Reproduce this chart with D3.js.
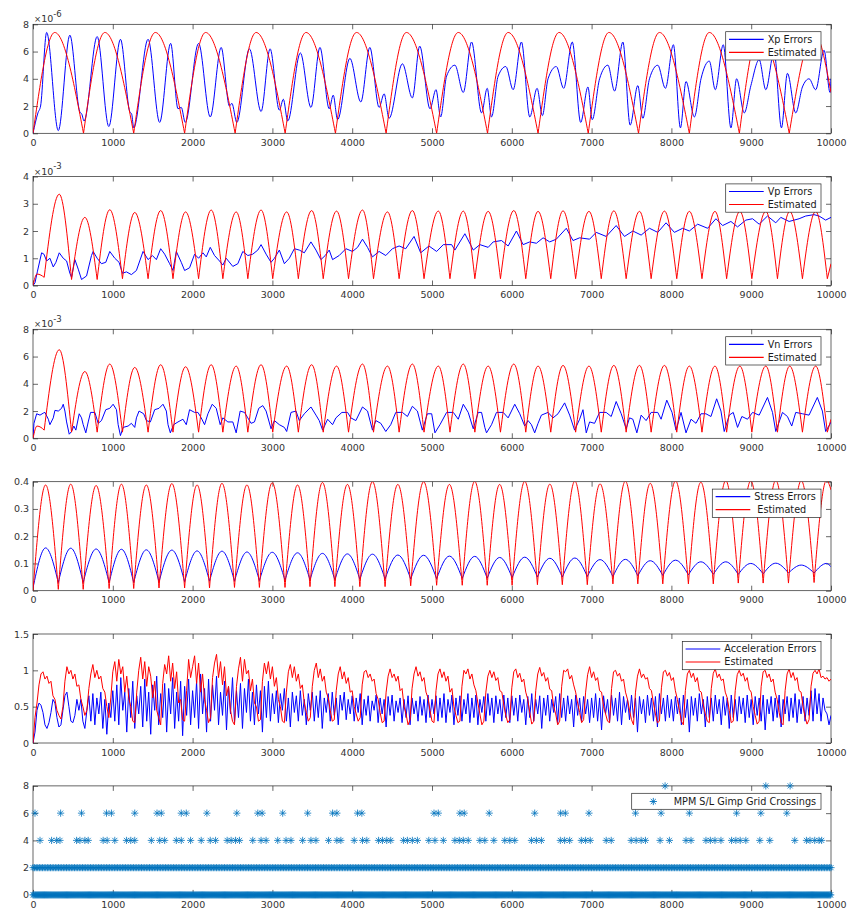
<!DOCTYPE html>
<html>
<head>
<meta charset="utf-8">
<script src="https://cdn.jsdelivr.net/npm/d3@7"></script>
<style>
  body { margin: 0; background: #fff; }
  svg text { font-family: "DejaVu Sans", sans-serif; }
</style>
</head>
<body>
<svg id="chart"></svg>
<script>
// ---- data ------------------------------------------------------------------------

var xTicks = [0, 1000, 2000, 3000, 4000, 5000, 6000, 7000, 8000, 9000, 10000];

// panel 1 (x 1e-6)
var xpErrX = [0,62,95,171,317,462,585,612,640,804,950,1096,1212,1237,1262,1442,1587,1725,1817,1858,
  1908,2075,2221,2358,2462,2492,2554,2712,2858,2971,3087,3137,3192,3350,3483,3596,3712,3762,3817,3971,
  4108,4221,4337,4400,4462,4629,4754,4846,4975,5050,5108,5183,5287,5392,5496,5621,5692,5746,5829,5925,
  6017,6121,6225,6317,6383,6454,6558,6650,6758,6863,6954,7008,7100,7204,7288,7392,7483,7579,7642,7725,
  7829,7925,8025,8113,8183,8288,8371,8475,8550,8650,8746,8817,8913,8996,9100,9183,9287,9379,9454,9558,
  9642,9725,9808,9913,9988,10000];
var xpErrY = [0,1.5,2.0,7.4,0.2,7.2,1.6,1.4,0.9,7.1,0.5,6.9,1.6,1.4,0.4,6.9,0.8,6.6,1.8,1.9,
  0.8,6.6,1.2,6.3,2.0,2.2,0.8,6.2,1.6,6.2,1.7,2.5,0.9,5.9,1.9,6.3,1.8,2.8,1.0,5.5,
  2.3,6.3,1.9,2.9,1.1,5.1,2.6,6.4,1.8,3.2,1.2,4.2,5.0,3.0,6.7,1.5,3.3,1.2,4.2,4.9,
  3.2,6.7,1.2,3.3,1.3,4.0,4.9,3.3,6.7,0.8,3.4,1.0,4.0,5.0,3.1,6.7,0.6,3.5,1.1,4.0,
  5.0,3.3,6.5,0.4,3.8,1.2,4.0,5.3,3.2,6.5,0.4,4.0,1.5,3.5,5.4,3.2,6.0,0.4,4.4,1.5,
  3.4,4.0,3.2,6.1,3.0,4.0];
var xpEstX = [0,272,633,900,1262,1533,1900,2163,2533,2796,3160,3421,3790,4054,4425,4679,5058,5329,
  5696,5954,6329,6592,6958,7217,7588,7850,8225,8475,8852,9100,9477,9790,10000];
var xpEstY = [0,7.4,0,7.4,0,7.4,0,7.4,0,7.4,0,7.4,0,7.4,0,7.4,0,7.4,
  0,7.4,0,7.4,0,7.4,0,7.4,0,7.4,0,7.4,0,7.4,3.0];

// panels 2 and 3 share the same arch positions of the estimate
var estX23 = [0,50,100,140, 329,483, 650,804, 962,1121, 1275,1442, 1600,1754, 1912,2075, 2233,2379,
  2546,2692, 2858,3004, 3179,3325, 3492,3637, 3804,3954, 4129,4267, 4442,4588, 4754,4900, 5079,5225,
  5392,5537, 5704,5858, 6025,6175, 6329,6488, 6642,6800, 6967,7121, 7279,7433, 7600,7746, 7913,8067,
  8225,8383, 8546,8692, 8858,9008, 9183,9329, 9483,9642, 9808,9954, 10000];

// panel 2 (x 1e-3)
var vpErrX = [0,25,54,108,137,171,212,254,287,329,379,421,462,483,525,567,608,671,733,754,
  804,858,912,962,1025,1079,1121,1171,1233,1296,1379,1442,1496,1546,1600,1650,1712,1754,1796,1858,
  1900,1962,2025,2075,2129,2171,2221,2275,2337,2379,2421,2504,2567,2629,2692,2754,2817,2858,2921,2983,
  3025,3087,3150,3212,3275,3337,3400,3483,3546,3608,3662,3712,3754,3837,3921,4004,4067,4129,4192,4254,
  4337,4421,4504,4588,4671,4775,4858,4962,5058,5142,5246,5287,5412,5517,5600,5704,5767,5871,
  5954,6058,6142,6225,6308,6392,6475,6558,6683,6767,6850,6975,7058,7183,7308,7412,7517,7621,7725,7829,
  7933,8037,8142,8225,8329,8454,8558,8642,8746,8829,8933,9017,9100,9204,9308,9371,9475,9600,9683,9787,
  9850,9933,10000];
var vpErrY = [0,0.1,0.5,1.2,1.15,0.9,1.0,0.68,0.85,1.2,1.0,0.9,0.45,0.3,0.95,0.6,0.22,0.35,1.1,1.25,
  1.0,0.8,0.85,1.25,1.0,0.85,0.45,0.5,0.4,0.55,1.25,0.95,1.1,0.95,1.35,1.15,0.8,0.55,1.25,0.85,
  0.55,0.65,1.15,1.0,1.2,1.05,1.4,1.1,0.9,0.75,1.0,0.7,0.8,1.25,1.1,1.15,1.3,1.5,1.15,0.85,
  1.0,1.3,0.8,1.0,1.35,1.3,1.2,1.6,1.3,0.95,1.1,1.3,0.95,1.1,1.35,1.25,1.4,1.7,1.4,1.05,
  1.25,1.1,1.35,1.45,1.35,1.8,1.2,1.45,1.25,1.5,1.5,1.3,1.9,1.3,1.5,1.4,1.6,1.65,
  1.45,2.0,1.5,1.6,1.55,1.75,1.6,1.7,2.1,1.65,1.75,1.7,1.95,1.8,2.2,1.8,2.0,1.85,2.1,1.95,
  2.3,1.95,2.1,2.0,2.25,2.1,2.45,2.2,2.35,2.15,2.4,2.45,2.25,2.55,2.3,2.5,2.35,2.45,2.55,2.6,
  2.55,2.4,2.5];
var vpEstY = [0,0.42,0.38,0.3, 3.35,0.22, 2.5,0.22, 2.78,0.25, 2.68,0.25, 2.75,0.25, 2.7,0.25, 2.77,0.25,
  2.7,0.25, 2.77,0.25, 2.7,0.25, 2.75,0.25, 2.73,0.25, 2.77,0.25, 2.7,0.25, 2.75,0.25, 2.73,0.25,
  2.73,0.25, 2.72,0.25, 2.75,0.25, 2.72,0.25, 2.74,0.25, 2.72,0.25, 2.74,0.25, 2.72,0.25, 2.73,0.25,
  2.72,0.25, 2.72,0.25, 2.72,0.25, 2.72,0.25, 2.72,0.25, 2.72,0.25, 0.8];

// panel 3 (x 1e-3)
var vnErrX = [0,12,46,88,129,150,192,212,254,275,317,358,379,400,421,454,483,512,537,579,
  608,629,662,692,721,775,817,858,912,962,1004,1046,1067,1096,1129,1192,1233,1275,1296,1329,
  1387,1421,1471,1525,1579,1629,1671,1692,1721,1762,1817,1879,1921,1962,2025,2067,2108,2150,2192,2246,
  2296,2346,2379,2442,2504,2546,2596,2650,2692,2733,2775,2829,2879,2921,2983,3025,3087,3150,3179,3233,
  3296,3337,3400,3483,3546,3587,3629,3692,3754,3796,3871,3942,3983,4046,4129,4192,4254,4296,4358,4421,
  4483,4546,4629,4692,4754,4817,4879,4942,
  4996,5037,5100,5183,5267,5329,5392,5454,5517,5579,5621,5662,5683,5746,5808,5892,5954,6037,6100,6162,
  6204,6246,6287,6329,6371,6454,6517,6579,6662,6725,6787,6850,6892,6933,6975,7037,7100,7183,7246,7308,
  7371,7433,7475,7517,7567,7621,7683,7746,7829,7871,7942,8008,8058,8121,8183,8246,8308,8371,8433,8496,
  8567,8621,8662,8725,8775,8829,8883,8954,9017,9100,9204,9267,9308,9392,9454,9508,9558,9642,9725,9829,
  9892,9933,9983,10000];
var vnErrY = [0,1.1,1.8,1.7,1.85,1.9,1.4,1.0,1.5,2.05,2.0,2.2,2.5,2.0,1.2,0.3,0.5,0.9,0.6,1.8,
  1.5,1.0,0.4,1.2,1.9,1.9,1.1,1.3,2.1,2.2,2.5,2.1,1.0,0.2,0.8,0.9,1.1,0.8,1.5,2.0,
  1.8,1.3,1.2,2.1,2.2,2.5,2.0,1.0,0.4,1.0,1.2,1.4,1.0,2.1,1.9,1.9,1.5,1.0,1.8,2.5,
  2.2,1.0,1.5,1.2,1.2,0.4,2.0,1.9,1.5,1.1,1.2,2.2,2.4,2.0,0.7,1.3,1.0,0.8,0.5,1.9,
  2.0,1.3,1.8,2.3,1.7,1.3,0.6,1.4,1.0,1.5,1.9,1.9,1.5,1.3,2.3,2.0,0.6,1.3,1.1,0.5,
  1.0,1.9,1.9,1.6,2.35,2.0,0.6,1.8,
  1.8,0.4,1.0,1.9,1.9,1.4,2.5,1.9,0.7,1.9,1.9,0.8,0.4,1.0,1.9,1.9,1.5,2.5,1.8,0.9,
  1.3,1.0,0.4,1.1,1.7,1.9,1.5,1.8,2.6,1.7,0.6,1.4,2.1,0.4,1.2,1.1,1.9,1.9,1.6,2.7,
  1.8,0.7,1.5,1.4,0.4,1.7,1.3,1.9,1.9,1.4,2.8,1.9,0.6,1.9,0.4,1.4,1.1,1.8,1.8,1.6,
  2.9,2.0,0.5,1.7,1.9,0.8,1.6,1.4,1.9,1.7,3.0,1.9,0.5,1.9,1.6,0.9,1.9,1.8,1.7,3.0,
  2.0,0.5,1.0,1.2];
var vnEstY = [0,0.9,0.8,0.6, 6.5,0.45, 4.9,0.45, 5.45,0.45, 5.2,0.45, 5.4,0.45, 5.25,0.45, 5.4,0.45,
  5.3,0.45, 5.4,0.45, 5.3,0.45, 5.4,0.45, 5.3,0.45, 5.45,0.45, 5.3,0.45, 5.45,0.45, 5.3,0.45,
  5.45,0.45, 5.3,0.45, 5.45,0.45, 5.3,0.45, 5.35,0.45, 5.3,0.45, 5.35,0.45, 5.35,0.45, 5.35,0.45,
  5.3,0.45, 5.3,0.45, 5.3,0.45, 5.3,0.45, 5.3,0.45, 5.3,0.45, 1.4];

// panel 4: troughs / peaks interleaved
var stressX = [0,158,317,473,629,791,954,1108,1262,1420,1579,1740,1900,2056,2212,2368,2525,2681,
  2837,2998,3158,3315,3471,3627,3783,3940,4096,4254,4412,4572,4733,4895,5058,5218,5379,5535,
  5692,5848,6004,6162,6321,6477,6633,6790,6946,7106,7267,7423,7579,7735,7892,8052,8213,8369,
  8525,8681,8838,8994,9150,9308,9467,9627,9788,9944,10000];
var stressErrY = [0.01,0.157,0.03,0.156,0.03,0.153,0.03,0.152,0.03,0.15,0.032,0.149,0.033,0.146,
  0.035,0.145,0.035,0.142,0.037,0.141,0.038,0.139,0.04,0.137,0.04,0.135,0.042,0.134,0.043,0.131,
  0.043,0.13,0.044,0.127,0.045,0.126,0.046,0.122,0.048,0.123,0.05,0.119,0.05,0.12,0.052,0.114,
  0.052,0.115,0.055,0.11,0.056,0.112,0.058,0.106,0.06,0.106,0.06,0.1,0.062,0.101,0.065,0.094,
  0.065,0.1,0.088];
var stressEstY = [0,0.388,0.005,0.391,0.005,0.386,0.008,0.391,0.008,0.388,0.01,0.393,0.01,0.388,
  0.01,0.394,0.012,0.388,0.012,0.396,0.012,0.388,0.015,0.397,0.015,0.39,0.015,0.4,0.015,0.39,
  0.018,0.4,0.02,0.39,0.02,0.401,0.02,0.39,0.02,0.401,0.022,0.391,0.022,0.402,0.022,0.392,
  0.025,0.402,0.025,0.394,0.025,0.403,0.025,0.398,0.025,0.404,0.028,0.403,0.028,0.405,0.028,0.404,
  0.03,0.405,0.37];

// panel 5: one value every accStep time steps
var accStep = 25;
var accErr = [0,0.15,0.45,0.55,0.52,0.42,0.25,0.2,0.28,0.42,0.6,0.55,0.35,0.22,0.25,0.45,0.65,0.7,0.5,0.3,
  0.28,0.38,0.6,0.45,0.6,0.3,0.2,0.45,0.65,
  0.3,0.68,0.25,0.62,0.4,0.7,0.2,0.6,0.12,0.55,0.35,0.72,
  0.3,0.8,0.25,0.9,0.45,0.7,0.15,0.75,0.35,0.85,0.2,0.65,0.4,0.78,0.22,0.88,0.3,0.7,0.12,0.8,
  0.45,0.92,0.25,0.68,0.35,0.82,0.15,0.75,0.4,0.9,0.2,0.7,0.3,0.85,0.1,0.78,0.38,0.88,0.25,0.72,
  0.35,0.85,0.2,0.95,0.4,0.75,0.15,0.88,0.3,0.8,0.45,0.92,0.25,0.7,0.38,0.85,0.18,0.78,0.4,0.9,
  0.28,0.72,0.35,0.82,0.2,0.75,0.42,0.88,0.3,0.7,0.25,0.8,0.4,0.72,0.15,0.78,0.35,0.85,0.3,0.68,
  0.4,0.72,0.28,0.68,0.45,0.75,0.3,0.62,0.22,0.7,0.42,0.65,0.3,0.72,0.38,0.6,0.25,0.68,0.45,0.7,
  0.3,0.65,0.35,0.72,0.2,0.62,0.42,0.68,0.3,0.7,0.38,0.62,0.25,0.66,0.45,0.7,0.32,0.6,0.4,0.65,
  0.3,0.62,0.42,0.68,0.25,0.6,0.38,0.65,0.3,0.58,0.45,0.66,0.28,0.62,0.4,0.6,0.22,0.64,0.38,0.66,
  0.3,0.58,0.42,0.62,0.28,0.6,0.35,0.65,0.25,0.62,0.4,0.58,0.3,0.64,0.38,0.6,0.28,0.66,0.35,0.6,
  0.4,0.65,0.3,0.62,0.35,0.68,0.28,0.6,0.42,0.66,0.25,0.62,0.38,0.65,0.3,0.6,0.4,0.68,0.28,0.62,
  0.35,0.66,0.25,0.6,0.42,0.64,0.3,0.68,0.38,0.62,0.28,0.65,0.4,0.6,0.3,0.66,0.35,0.62,0.28,0.65,
  0.38,0.62,0.3,0.66,0.42,0.6,0.25,0.64,0.35,0.68,0.3,0.6,0.4,0.65,0.2,0.62,0.38,0.66,0.3,0.6,
  0.42,0.64,0.28,0.68,0.35,0.62,0.3,0.65,0.4,0.6,0.22,0.66,0.38,0.62,0.3,0.64,0.4,0.6,0.28,0.62,
  0.35,0.68,0.3,0.62,0.18,0.65,0.4,0.6,0.28,0.66,0.38,0.62,0.3,0.7,0.25,0.64,0.42,0.6,0.32,0.66,
  0.35,0.62,0.15,0.64,0.4,0.6,0.28,0.66,0.38,0.62,0.3,0.64,0.22,0.68,0.4,0.62,0.3,0.66,0.35,0.6,
  0.3,0.64,0.4,0.62,0.25,0.66,0.35,0.6,0.15,0.64,0.38,0.62,0.3,0.68,0.4,0.6,0.22,0.64,0.35,0.62,
  0.3,0.66,0.4,0.6,0.25,0.64,0.38,0.62,0.2,0.66,0.35,0.6,0.3,0.64,0.4,0.62,0.28,0.66,0.35,0.6,
  0.25,0.64,0.38,0.62,0.3,0.66,0.18,0.6,0.4,0.64,0.3,0.62,0.35,0.66,0.22,0.6,0.4,0.64,0.3,0.62,
  0.35,0.68,0.28,0.6,0.4,0.64,0.3,0.62,0.38,0.72,0.3,0.75,0.4,0.68,0.3,0.62,0.45,0.4,0.25,0.38];
var accEst = [0.0,0.35,0.55,0.8,0.95,0.98,0.88,0.92,0.82,0.85,0.65,0.6,0.45,0.38,0.33,0.5,0.85,1.05,0.95,1.0,
  0.88,0.95,0.78,0.8,0.6,0.5,0.38,0.45,0.75,0.95,1.08,0.9,1.0,0.88,0.92,0.75,0.7,0.5,0.35,
  0.62,0.98,1.12,0.85,1.15,0.95,1.05,0.7,0.92,0.62,0.5,0.3,
  0.28,0.7,1.0,1.18,0.88,1.12,0.78,1.05,0.92,0.62,0.85,0.45,0.35,
  0.25,0.82,1.08,0.95,1.2,0.85,1.1,0.75,0.98,0.55,0.6,0.32,
  0.3,0.72,1.15,0.9,1.05,1.2,0.82,1.1,0.7,0.95,0.6,0.45,0.28,
  0.35,0.9,1.1,1.22,0.9,1.12,0.8,1.05,0.65,0.78,0.45,0.3,
  0.25,0.78,1.02,1.18,0.85,1.15,0.95,1.0,0.72,0.88,0.55,0.5,0.3,
  0.32,0.85,1.1,0.95,1.12,0.88,1.05,0.78,0.9,0.6,0.5,0.3,
  0.28,0.7,0.98,1.08,0.9,1.05,0.85,0.95,0.75,0.8,0.55,0.42,0.3,
  0.35,0.78,1.0,1.1,0.9,1.02,0.85,0.92,0.7,0.62,0.45,0.3,
  0.32,0.72,0.95,1.05,0.88,0.98,0.82,0.9,0.7,0.72,0.5,0.4,0.3,
  0.35,0.8,0.98,1.0,0.9,0.95,0.85,0.88,0.68,0.6,0.42,0.28,
  0.3,0.7,0.92,1.02,0.9,0.95,0.85,0.92,0.72,0.75,0.5,0.4,0.25,
  0.32,0.75,0.95,1.05,0.92,0.98,0.85,0.9,0.7,0.62,0.45,0.3,
  0.28,0.72,0.95,1.02,0.9,0.98,0.85,0.92,0.7,0.75,0.5,0.38,0.28,
  0.3,0.78,1.0,0.95,1.02,0.88,0.95,0.8,0.72,0.55,0.4,0.25,
  0.3,0.7,0.92,1.0,0.9,0.98,0.86,0.9,0.72,0.7,0.52,0.38,0.28,
  0.32,0.76,0.98,1.02,0.9,0.96,0.84,0.88,0.7,0.6,0.42,0.26,
  0.3,0.72,0.95,1.04,0.92,0.97,0.85,0.9,0.74,0.72,0.5,0.4,0.25,
  0.3,0.78,1.0,0.98,1.02,0.88,0.93,0.8,0.7,0.55,0.42,0.28,
  0.32,0.7,0.94,1.05,0.9,0.98,0.86,0.9,0.72,0.7,0.5,0.4,0.3,
  0.28,0.75,0.98,1.0,0.92,0.96,0.85,0.88,0.7,0.6,0.45,0.32,
  0.25,0.7,0.92,1.02,0.9,0.95,0.88,0.9,0.75,0.72,0.55,0.4,0.28,
  0.3,0.76,0.98,1.0,0.92,0.97,0.86,0.9,0.72,0.6,0.45,0.3,
  0.25,0.72,0.95,1.0,0.9,0.96,0.84,0.9,0.72,0.7,0.52,0.4,0.3,
  0.28,0.75,0.96,1.02,0.9,0.95,0.86,0.88,0.7,0.62,0.45,0.28,
  0.3,0.72,0.94,1.0,0.92,0.96,0.85,0.9,0.74,0.7,0.5,0.38,0.26,
  0.3,0.78,0.98,1.0,0.9,0.95,0.84,0.88,0.7,0.6,0.42,0.28,
  0.25,0.72,0.95,1.02,0.9,0.97,0.86,0.9,0.72,0.7,0.5,0.36,0.26,
  0.32,0.78,0.96,1.0,0.95,1.02,0.9,0.92,0.88,0.9,0.85,0.88];

// panel 6: grid crossings; rows 0 and 2 are hit at nearly every sampled step
var crossRow0Step = 12;
var crossRow2Step = 20;
var cross4X = [88,233,296,338,546,588,650,692,879,929,1025,1171,1225,1275,1483,1588,1650,1796,1858,1975,
  2108,2221,2288,2433,2483,2538,2588,2754,2858,2921,3067,3171,3233,3379,3483,3546,3704,3808,3858,4025,
  4129,4183,4329,4379,4433,4483,4642,4692,4754,4817,4960,5037,5142,5287,5342,5392,5454,5600,5662,5775,
  5912,5975,6037,6246,6308,6371,6608,6662,6725,6871,6925,6983,7183,7246,7496,7558,7621,7675,7858,7975,
  8183,8246,8433,8488,8546,8621,8754,8808,8862,8933,9108,9233,9546,9692,9737,9796,9850,9883];
var cross6X = [25,346,608,921,983,1275,1554,1608,1858,1921,2179,2554,2817,2871,3129,3442,3754,3808,
  4067,4121,5025,5079,5350,5404,5717,6287,6612,6671,6967,7550,7871,8225,8817,9121,9446];
var cross8X = [7921,9183,9488];

// ---- drawing ---------------------------------------------------------------------

var W = 848, H = 914;
var plotLeft = 33, plotRight = 831, plotH = 109;
var axisColor = "#262626";
var blue = "#0000ff", red = "#ff0000", scatterBlue = "#0072bd";

var svg = d3.select("#chart").attr("width", W).attr("height", H);

var x = d3.scaleLinear().domain([0, 10000]).range([plotLeft, plotRight]);

function zip(xs, ys) {
  return ys.map(function(v, i) { return [xs[i], v]; });
}

function makePanel(top, yDomain, yTicks, expo) {
  var y = d3.scaleLinear().domain(yDomain).range([top + plotH, top]);
  var g = svg.append("g");
  var clipId = "clip" + Math.round(top);
  g.append("clipPath").attr("id", clipId)
    .append("rect").attr("x", plotLeft).attr("y", top)
    .attr("width", plotRight - plotLeft).attr("height", plotH);

  var bottom = g.append("g").attr("transform", "translate(0," + (top + plotH) + ")")
    .call(d3.axisBottom(x).tickValues(xTicks).tickSize(-5).tickPadding(6).tickFormat(d3.format("d")));
  var topAx = g.append("g").attr("transform", "translate(0," + top + ")")
    .call(d3.axisTop(x).tickValues(xTicks).tickSize(-5).tickFormat(""));
  var left = g.append("g").attr("transform", "translate(" + plotLeft + ",0)")
    .call(d3.axisLeft(y).tickValues(yTicks).tickSize(-5).tickPadding(4)
      .tickFormat(function(d) { return String(d); }));
  var right = g.append("g").attr("transform", "translate(" + plotRight + ",0)")
    .call(d3.axisRight(y).tickValues(yTicks).tickSize(-5).tickFormat(""));

  [bottom, topAx, left, right].forEach(function(a) {
    a.select(".domain").remove();
    a.attr("color", axisColor).attr("font-family", "DejaVu Sans").attr("font-size", 9.5);
    a.selectAll("line").attr("stroke-width", 0.7);
    a.selectAll("text").attr("fill", "#333");
  });

  g.append("rect").attr("x", plotLeft).attr("y", top)
    .attr("width", plotRight - plotLeft).attr("height", plotH)
    .attr("fill", "none").attr("stroke", axisColor).attr("stroke-width", 0.7);

  if (expo) {
    var t = g.append("text").attr("x", plotLeft + 1).attr("y", top - 2)
      .attr("font-size", 9.5).attr("fill", "#333");
    t.append("tspan").attr("font-size", 8.5).text("\u00d7");
    t.append("tspan").text("10");
    t.append("tspan").attr("dy", -5.5).attr("font-size", 8.5).text(expo);
  }

  var data = svg.append("g").attr("clip-path", "url(#" + clipId + ")");
  return { y: y, top: top, data: data };
}

function drawLine(p, pts, color, curve) {
  var line = d3.line()
    .x(function(d) { return x(d[0]); })
    .y(function(d) { return p.y(d[1]); })
    .curve(curve || d3.curveLinear);
  p.data.append("path").attr("d", line(pts))
    .attr("fill", "none").attr("stroke", color).attr("stroke-width", 1)
    .attr("stroke-linejoin", "round");
}

// each arch runs trough -> peak -> trough, so it is drawn as its own smooth piece
function drawArches(p, pts, color) {
  var line = d3.line()
    .x(function(d) { return x(d[0]); })
    .y(function(d) { return p.y(d[1]); })
    .curve(d3.curveMonotoneX);
  var path = "", seg = [pts[0]];
  for (var i = 1; i < pts.length; i++) {
    seg.push(pts[i]);
    var low = i < pts.length - 1 && pts[i][1] < pts[i - 1][1] && pts[i][1] <= pts[i + 1][1];
    if (low) { path += line(seg); seg = [pts[i]]; }
  }
  if (seg.length > 1) path += line(seg);
  p.data.append("path").attr("d", path)
    .attr("fill", "none").attr("stroke", color).attr("stroke-width", 1);
}

function starPath(r) {
  var a = r * 0.7071;
  return "M" + (-r) + ",0H" + r + "M0," + (-r) + "V" + r +
    "M" + (-a) + "," + (-a) + "L" + a + "," + a + "M" + (-a) + "," + a + "L" + a + "," + (-a);
}

function legend(top, boxLeft, items) {
  var boxTop = top + 7.4;
  var h = items.length === 1 ? 16 : 28.3;
  var g = svg.append("g");
  g.append("rect").attr("x", boxLeft).attr("y", boxTop)
    .attr("width", 821 - boxLeft).attr("height", h)
    .attr("fill", "#fff").attr("stroke", axisColor).attr("stroke-width", 0.7);
  items.forEach(function(it, i) {
    var cy = boxTop + (items.length === 1 ? 8.2 : 7.6 + i * 13);
    if (it.kind === "star") {
      g.append("path").attr("d", starPath(3.6))
        .attr("transform", "translate(" + (boxLeft + 21.6) + "," + cy + ")")
        .attr("fill", "none").attr("stroke", it.color).attr("stroke-width", 0.9);
    } else {
      g.append("line").attr("x1", boxLeft + 3.3).attr("x2", boxLeft + 38)
        .attr("y1", cy).attr("y2", cy)
        .attr("stroke", it.color).attr("stroke-width", 1.2);
    }
    g.append("text").attr("x", boxLeft + (it.dx || 42)).attr("y", cy).attr("dy", "0.35em")
      .attr("font-size", 9.7).attr("fill", "#1a1a1a").text(it.label);
  });
}

var tops = [24.3, 176.5, 329.3, 481.7, 634, 785.9];

// panel 1
var p1 = makePanel(tops[0], [0, 8], [0, 2, 4, 6, 8], "-6");
drawLine(p1, zip(xpErrX, xpErrY), blue, d3.curveMonotoneX);
drawArches(p1, zip(xpEstX, xpEstY), red);
legend(tops[0], 725.7, [{ label: "Xp Errors", color: blue }, { label: "Estimated", color: red }]);

// panel 2
var p2 = makePanel(tops[1], [0, 4], [0, 1, 2, 3, 4], "-3");
drawLine(p2, zip(vpErrX, vpErrY), blue);
drawArches(p2, zip(estX23, vpEstY), red);
legend(tops[1], 725.7, [{ label: "Vp Errors", color: blue }, { label: "Estimated", color: red }]);

// panel 3
var p3 = makePanel(tops[2], [0, 8], [0, 2, 4, 6, 8], "-3");
drawLine(p3, zip(vnErrX, vnErrY), blue);
drawArches(p3, zip(estX23, vnEstY), red);
legend(tops[2], 725.7, [{ label: "Vn Errors", color: blue }, { label: "Estimated", color: red }]);

// panel 4
var p4 = makePanel(tops[3], [0, 0.4], [0, 0.1, 0.2, 0.3, 0.4], null);
drawArches(p4, zip(stressX, stressErrY), blue);
drawArches(p4, zip(stressX, stressEstY), red);
legend(tops[3], 712.3, [{ label: "Stress Errors", color: blue }, { label: "Estimated", color: red, dx: 45 }]);

// panel 5
var p5 = makePanel(tops[4], [0, 1.5], [0, 0.5, 1, 1.5], null);
drawLine(p5, accErr.map(function(v, i) { return [i * accStep, v]; }), blue);
drawLine(p5, accEst.map(function(v, i) { return [i * accStep, v]; }), red);
legend(tops[4], 682.3, [{ label: "Acceleration Errors", color: blue }, { label: "Estimated", color: red }]);

// panel 6 (markers are not clipped)
var p6 = makePanel(tops[5], [0, 8], [0, 2, 4, 6, 8], null);
var crossPts = [];
d3.range(0, 10001, crossRow0Step).forEach(function(v) { crossPts.push([v, 0]); });
d3.range(0, 10001, crossRow2Step).forEach(function(v) { crossPts.push([v, 2]); });
cross4X.forEach(function(v) { crossPts.push([v, 4]); });
cross6X.forEach(function(v) { crossPts.push([v, 6]); });
cross8X.forEach(function(v) { crossPts.push([v, 8]); });
svg.append("g").selectAll("path").data(crossPts).enter().append("path")
  .attr("d", starPath(3.6))
  .attr("transform", function(d) { return "translate(" + x(d[0]) + "," + p6.y(d[1]) + ")"; })
  .attr("fill", "none").attr("stroke", scatterBlue).attr("stroke-width", 0.8);
legend(tops[5], 631.7, [{ label: "MPM S/L Gimp Grid Crossings", color: scatterBlue, kind: "star" }]);
</script>
</body>
</html>
